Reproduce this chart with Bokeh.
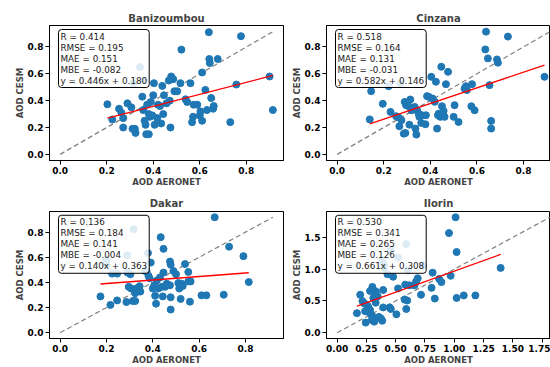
from bokeh.plotting import figure
from bokeh.models import Label, FixedTicker, Range1d, CustomJSTickFormatter
from bokeh.layouts import column, row
from bokeh.embed import file_html
from bokeh.resources import INLINE

# ---------------- data ----------------
bani_x = [0.203, 0.224, 0.253, 0.263, 0.271, 0.289, 0.271, 0.306, 0.311, 0.324, 0.321, 0.314,
          0.343, 0.353, 0.360, 0.357, 0.363, 0.367, 0.370, 0.381, 0.374, 0.389, 0.386, 0.396,
          0.381, 0.403, 0.400, 0.406, 0.417, 0.420, 0.429, 0.439, 0.434, 0.443, 0.446, 0.457,
          0.471, 0.467, 0.477, 0.491, 0.474, 0.486, 0.521, 0.517, 0.503, 0.539, 0.546, 0.560,
          0.567, 0.571, 0.574, 0.589, 0.600, 0.603, 0.610, 0.610, 0.624, 0.631, 0.639, 0.641,
          0.643, 0.649, 0.657, 0.660, 0.677, 0.731, 0.757, 0.777, 0.900, 0.914]
bani_y = [0.373, 0.26, 0.34, 0.31, 0.27, 0.38, 0.20, 0.35, 0.19, 0.16, 0.19, 0.53,
          0.65, 0.43, 0.55, 0.33, 0.25, 0.22, 0.15, 0.30, 0.37, 0.39, 0.28, 0.29,
          0.15, 0.53, 0.44, 0.22, 0.27, 0.37, 0.36, 0.51, 0.23, 0.30, 0.44, 0.38,
          0.40, 0.55, 0.58, 0.47, 0.20, 0.56, 0.78, 0.53, 0.47, 0.41, 0.39, 0.53,
          0.24, 0.28, 0.37, 0.37, 0.29, 0.32, 0.25, 0.61, 0.48, 0.33, 0.91, 0.71,
          0.68, 0.42, 0.34, 0.36, 0.71, 0.24, 0.52, 0.88, 0.58, 0.33]

cinz_x = [0.140, 0.146, 0.196, 0.221, 0.229, 0.253, 0.264, 0.267, 0.271, 0.276, 0.286, 0.290,
          0.293, 0.296, 0.307, 0.310, 0.314, 0.319, 0.333, 0.336, 0.340, 0.343, 0.350, 0.353,
          0.361, 0.364, 0.379, 0.381, 0.386, 0.393, 0.404, 0.410, 0.419, 0.424, 0.429, 0.433,
          0.436, 0.443, 0.447, 0.450, 0.457, 0.461, 0.467, 0.476, 0.500, 0.504, 0.521, 0.547,
          0.553, 0.557, 0.576, 0.579, 0.590, 0.636, 0.639, 0.647, 0.654, 0.661, 0.661, 0.686,
          0.690, 0.733, 0.890]
cinz_y = [0.26, 0.47, 0.376, 0.507, 0.316, 0.284, 0.274, 0.209, 0.527, 0.254, 0.154, 0.39,
          0.159, 0.366, 0.358, 0.221, 0.408, 0.328, 0.353, 0.192, 0.147, 0.328, 0.303, 0.279,
          0.234, 0.291, 0.224, 0.291, 0.433, 0.428, 0.577, 0.415, 0.391, 0.540, 0.192, 0.291,
          0.303, 0.279, 0.652, 0.358, 0.323, 0.279, 0.522, 0.614, 0.279, 0.366, 0.241, 0.490,
          0.507, 0.478, 0.358, 0.522, 0.328, 0.781, 0.913, 0.714, 0.515, 0.249, 0.192, 0.706,
          0.682, 0.876, 0.577]

dakar_x = [0.174, 0.200, 0.200, 0.217, 0.224, 0.246, 0.246, 0.286, 0.289, 0.291, 0.303, 0.296,
           0.306, 0.314, 0.317, 0.320, 0.324, 0.324, 0.329, 0.343, 0.346, 0.367, 0.373, 0.379,
           0.381, 0.386, 0.391, 0.400, 0.406, 0.410, 0.414, 0.417, 0.424, 0.431, 0.434, 0.439,
           0.443, 0.446, 0.446, 0.453, 0.460, 0.474, 0.477, 0.474, 0.477, 0.477, 0.489, 0.500,
           0.510, 0.514, 0.517, 0.520, 0.524, 0.529, 0.539, 0.553, 0.553, 0.560, 0.563, 0.610,
           0.631, 0.667, 0.706, 0.729, 0.791, 0.814]
dakar_y = [0.289, 0.579, 0.541, 0.221, 0.470, 0.470, 0.257, 0.244, 0.616, 0.478, 0.465, 0.365,
           0.352, 0.252, 0.823, 0.340, 0.314, 0.252, 0.352, 0.370, 0.327, 0.491, 0.491, 0.634,
           0.453, 0.433, 0.558, 0.352, 0.377, 0.294, 0.231, 0.415, 0.352, 0.440, 0.760, 0.365,
           0.289, 0.667, 0.478, 0.365, 0.390, 0.566, 0.541, 0.377, 0.282, 0.184, 0.491, 0.465,
           0.395, 0.352, 0.377, 0.269, 0.390, 0.372, 0.546, 0.483, 0.408, 0.247, 0.408, 0.297,
           0.297, 0.918, 0.302, 0.684, 0.609, 0.403]

ilorin_x = [0.169, 0.197, 0.216, 0.233, 0.239, 0.244, 0.261, 0.267, 0.272, 0.281, 0.281, 0.289,
            0.295, 0.301, 0.309, 0.309, 0.309, 0.317, 0.323, 0.329, 0.331, 0.346, 0.357, 0.374,
            0.385, 0.393, 0.385, 0.399, 0.402, 0.393, 0.430, 0.449, 0.458, 0.458, 0.478, 0.506,
            0.520, 0.520, 0.576, 0.581, 0.590, 0.590, 0.598, 0.604, 0.618, 0.660, 0.674, 0.688,
            0.716, 0.730, 0.815, 0.806, 0.834, 0.871, 0.890, 0.969, 0.955, 1.011, 1.020, 1.020,
            1.081, 1.180, 1.396]
ilorin_y = [0.308, 0.597, 0.498, 0.458, 0.338, 0.159, 0.423, 0.398, 0.323, 0.358, 0.657, 0.289,
            0.199, 0.721, 0.672, 0.547, 0.249, 0.174, 0.557, 0.473, 0.647, 0.572, 0.249, 0.224,
            0.189, 0.398, 1.144, 1.070, 1.020, 0.672, 0.920, 0.398, 0.373, 1.294, 0.881, 0.289,
            0.697, 1.184, 0.522, 0.756, 1.393, 0.373, 0.507, 0.985, 0.746, 0.746, 0.806, 0.856,
            0.597, 1.055, 0.945, 0.706, 0.537, 0.846, 0.796, 0.896, 1.567, 1.816, 1.269, 0.547,
            0.587, 0.587, 1.020]

stations = ["Banizoumbou", "Cinzana", "Dakar", "Ilorin"]
r_vals = ["0.414", "0.518", "0.136", "0.530"]
rmse_vals = ["0.195", "0.164", "0.184", "0.341"]
mae_vals = ["0.151", "0.131", "0.141", "0.265"]
mbe_vals = ["-0.082", "-0.031", "-0.004", "0.126"]
slopes = [0.446, 0.582, 0.140, 0.661]
intercepts = [0.180, 0.146, 0.363, 0.308]

ticks_small = [0.0, 0.2, 0.4, 0.6, 0.8]
ticks_ilorin_x = [0.0, 0.25, 0.5, 0.75, 1.0, 1.25, 1.5, 1.75]
ticks_ilorin_y = [0.0, 0.5, 1.0, 1.5]

x_label = "AOD AERONET"
y_label = "AOD CESM"

# ---------------- styling ----------------
FONT = "DejaVu Sans"
REF_FRAME_W = 234  # frame width of a full (uncropped) panel


def make_panel(idx, xs, ys, xticks, yticks, xfmt, yfmt, width, height,
               b_left, b_right, b_top, b_bottom, frame_w, frame_h,
               title_offset=0, title_standoff=4):
    m = max(max(xs), max(ys))
    lo = -0.05 * m
    hi = 1.05 * m
    span = hi - lo
    x_end = lo + span * frame_w / REF_FRAME_W
    p = figure(width=width, height=height, output_backend="svg", toolbar_location=None,
               x_range=Range1d(lo, x_end), y_range=Range1d(lo, hi),
               min_border_left=b_left, min_border_right=b_right,
               min_border_top=b_top, min_border_bottom=b_bottom,
               background_fill_color="white", border_fill_color="white")
    p.grid.visible = False
    p.outline_line_color = "black"
    p.outline_line_width = 1
    p.outline_line_alpha = 1

    p.title.text = stations[idx]
    p.title.text_font = FONT
    p.title.text_font_size = "10px"
    p.title.text_font_style = "bold"
    p.title.align = "center"
    p.title.standoff = title_standoff
    p.title.offset = title_offset

    for ax, lab, tks, fmt in ((p.xaxis, x_label, xticks, xfmt), (p.yaxis, y_label, yticks, yfmt)):
        ax.axis_label = lab
        ax.axis_label_text_font = FONT
        ax.axis_label_text_font_size = "8.5px"
        ax.axis_label_text_font_style = "bold"
        ax.axis_label_standoff = 0
        ax.major_label_text_font = FONT
        ax.major_label_text_font_size = "9px"
        ax.major_label_text_font_style = "bold"
        ax.major_label_text_color = "black"
        ax.major_label_standoff = 2
        ax.ticker = FixedTicker(ticks=tks)
        ax.formatter = CustomJSTickFormatter(code="return tick.toFixed(%d);" % fmt)
        ax.major_tick_out = 4
        ax.major_tick_in = 0
        ax.minor_tick_out = 0
        ax.minor_tick_in = 0
        ax.axis_line_color = "black"
        ax.major_tick_line_color = "black"

    # 1:1 line
    p.line([0, m], [0, m], line_color="gray", line_dash="5 3", line_width=1.2)
    # points
    p.scatter(xs, ys, size=7, fill_color="#1f77b4", line_color="#1f77b4")
    # regression
    x0, x1 = min(xs), max(xs)
    p.line([x0, x1], [slopes[idx] * x0 + intercepts[idx], slopes[idx] * x1 + intercepts[idx]],
           line_color="red", line_width=1.3)

    ppu_x = frame_w / (x_end - lo)
    ppu_y = frame_h / span
    txt = "R = %s\nRMSE = %s\nMAE = %s\nMBE = %s\ny = %.3fx + %.3f" % (
        r_vals[idx], rmse_vals[idx], mae_vals[idx], mbe_vals[idx], slopes[idx], intercepts[idx])
    lab = Label(x=lo + 9 / ppu_x, y=hi - 4 / ppu_y, text=txt, anchor="top_left",
                text_font=FONT, text_font_size="8.8px", text_line_height=1.1,
                text_color="#222222",
                background_fill_color="white", background_fill_alpha=0.85,
                border_line_color="black", border_line_width=1, border_line_alpha=1,
                padding=2, border_radius=3)
    p.add_layout(lab)
    return p


# top row: page y 0..193 ; bottom row 193..367
p1 = make_panel(0, bani_x, bani_y, ticks_small, ticks_small, 1, 1,
                width=285, height=193, b_left=49, b_right=2, b_top=25, b_bottom=33,
                frame_w=234, frame_h=135)
p2 = make_panel(1, cinz_x, cinz_y, ticks_small, ticks_small, 1, 1,
                width=265, height=193, b_left=41, b_right=0, b_top=25, b_bottom=33,
                frame_w=224, frame_h=135, title_offset=5)
p3 = make_panel(2, dakar_x, dakar_y, ticks_small, ticks_small, 1, 1,
                width=285, height=174, b_left=49, b_right=2, b_top=16, b_bottom=24,
                frame_w=234, frame_h=134, title_standoff=5)
p4 = make_panel(3, ilorin_x, ilorin_y, ticks_ilorin_x, ticks_ilorin_y, 2, 1,
                width=265, height=174, b_left=41, b_right=0, b_top=16, b_bottom=24,
                frame_w=224, frame_h=134, title_offset=5, title_standoff=5)

layout = column(row(p1, p2), row(p3, p4))
open("out.html", "w").write(file_html(layout, INLINE))
